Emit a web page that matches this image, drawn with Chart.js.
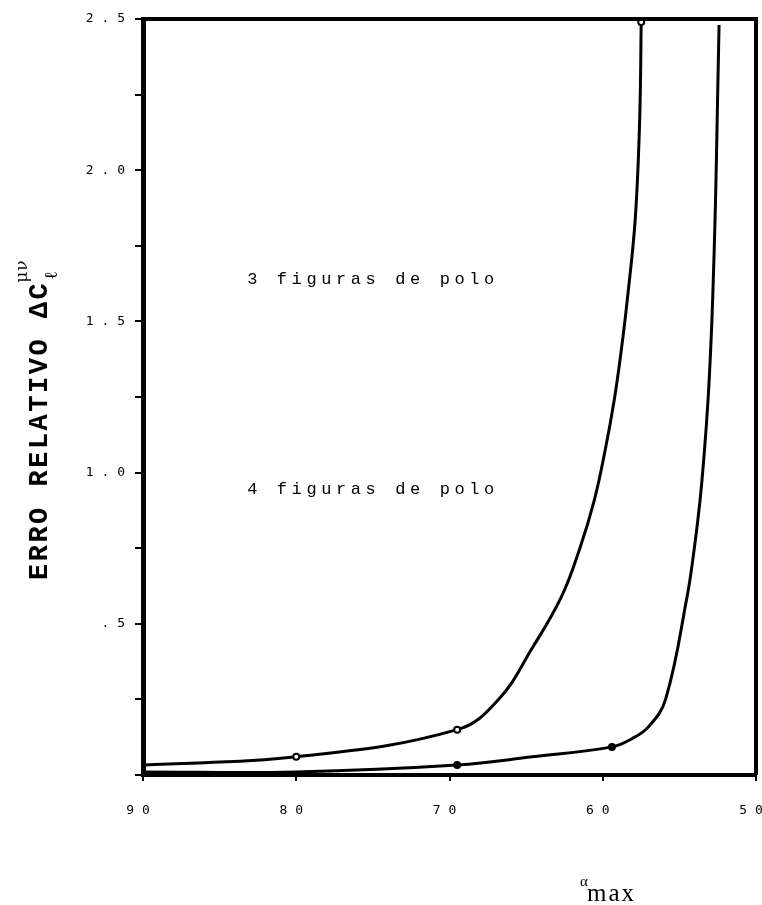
<!DOCTYPE html>
<html><head><meta charset="utf-8">
<script src="https://cdn.jsdelivr.net/npm/chart.js@4.4.1/dist/chart.umd.min.js"></script>
<style>html,body{margin:0;padding:0;background:#fff;overflow:hidden}#wrap{width:762px;height:905px;position:relative}</style>
</head><body><div id="wrap"><canvas id="c" width="762" height="905"></canvas></div>
<script>
// Curve "3 figuras de polo"
const alphaMax3 = [90, 80, 69.5, 66.8, 64.6, 62.7, 61.53, 60.55, 59.84, 59.25, 58.79, 58.4, 57.88, 57.59, 57.49];
const erro3     = [0.033, 0.06, 0.15, 0.25, 0.42, 0.589, 0.744, 0.909, 1.075, 1.24, 1.405, 1.571, 1.839, 2.169, 2.49];
const marks3    = [1, 2, 14];
// Curve "4 figuras de polo"
const alphaMax4 = [90, 80, 69.5, 64.6, 59.4, 58.1, 57.0, 55.9, 54.5, 54.04, 53.65, 53.36, 53.13, 52.96, 52.83, 52.64, 52.51, 52.41];
const erro4     = [0.01, 0.01, 0.033, 0.06, 0.093, 0.12, 0.16, 0.25, 0.589, 0.744, 0.909, 1.075, 1.24, 1.405, 1.571, 1.90, 2.23, 2.48];
const marks4    = [2, 4];
// Tick labels
const xTickValues = [90, 80, 70, 60, 50];
const xTickText   = ['9 0', '8 0', '7 0', '6 0', '5 0'];
const yTickValues = [0.5, 1.0, 1.5, 2.0, 2.5];
const yTickText   = ['. 5', '1 . 0', '1 . 5', '2 . 0', '2 . 5'];
// Texts
const curveLabels = ['3 figuras de polo', '4 figuras de polo'];
const yTitle = 'ERRO RELATIVO ΔC';

const ctx = document.getElementById('c').getContext('2d');

const textPlugin = {
  id: 'texts',
  afterDraw(chart) {
    const c = chart.ctx, a = chart.chartArea;
    const xs = chart.scales.x, ys = chart.scales.y;
    c.save();
    // frame top & right
    c.strokeStyle = '#000';
    c.lineWidth = 4;
    c.beginPath();
    c.moveTo(a.left, a.top); c.lineTo(a.right, a.top); c.lineTo(a.right, a.bottom);
    c.stroke();
    c.fillStyle = '#000';
    // curve labels
    c.font = '17px "Liberation Mono", "DejaVu Sans Mono", monospace';
    if ('letterSpacing' in c) c.letterSpacing = '4.6px';
    c.textAlign = 'left'; c.textBaseline = 'alphabetic';
    c.fillText(curveLabels[0], xs.getPixelForValue(83.2), ys.getPixelForValue(1.625));
    c.fillText(curveLabels[1], xs.getPixelForValue(83.2), ys.getPixelForValue(0.93));
    // y title
    c.save();
    c.translate(47, 580);
    c.rotate(-Math.PI / 2);
    c.font = 'bold 27px "Liberation Mono", "DejaVu Sans Mono", monospace';
    if ('letterSpacing' in c) c.letterSpacing = '2.5px';
    c.fillText(yTitle, 0, 0);
    const w = c.measureText(yTitle).width;
    c.font = '17px "DejaVu Serif", serif';
    if ('letterSpacing' in c) c.letterSpacing = '1px';
    c.fillText('μν', w - 2, -20);
    c.font = 'bold 18px "DejaVu Serif", serif';
    c.fillText('ℓ', w + 2, 10);
    c.restore();
    // x title
    if ('letterSpacing' in c) c.letterSpacing = '0px';
    c.font = '15px "Liberation Serif", serif';
    c.fillText('α', 580, 886);
    c.font = '25px "Liberation Serif", serif';
    if ('letterSpacing' in c) c.letterSpacing = '2px';
    c.fillText('max', 587, 901);
    c.restore();
  }
};

const pts = (xs, ys) => xs.map((x, i) => ({ x: x, y: ys[i] }));

new Chart(ctx, {
  type: 'line',
  data: {
    datasets: [
      {
        data: pts(alphaMax3, erro3), borderColor: '#000', borderWidth: 3,
        tension: 0.4, fill: false,
        pointRadius: c => marks3.includes(c.dataIndex) ? 3 : 0,
        pointBackgroundColor: '#fff', pointBorderColor: '#000', pointBorderWidth: 2
      },
      {
        data: pts(alphaMax4, erro4), borderColor: '#000', borderWidth: 3,
        tension: 0.4, fill: false,
        pointRadius: c => marks4.includes(c.dataIndex) ? 3 : 0,
        pointBackgroundColor: '#000', pointBorderColor: '#000', pointBorderWidth: 2
      }
    ]
  },
  options: {
    responsive: false, animation: false, devicePixelRatio: 1,
    layout: { padding: { top: 19, right: 5, left: 0, bottom: 0 } },
    plugins: { legend: { display: false }, tooltip: { enabled: false } },
    scales: {
      x: {
        type: 'linear', reverse: true, min: 50, max: 90,
        afterBuildTicks: s => { s.ticks = xTickValues.map(v => ({ value: v })); },
        ticks: {
          autoSkip: false, maxRotation: 0, color: '#000', padding: 22, labelOffset: -5,
          font: { family: '"DejaVu Sans Mono", monospace', size: 13 },
          callback: v => { const i = xTickValues.indexOf(v); return i >= 0 ? xTickText[i] : ''; }
        },
        grid: { drawOnChartArea: false, tickLength: 6, color: '#000', lineWidth: 2 },
        border: { display: true, color: '#000', width: 4 },
        afterFit: s => { s.height = 130; s.paddingLeft = 0; s.paddingRight = 0; }
      },
      y: {
        type: 'linear', min: 0, max: 2.5,
        ticks: {
          stepSize: 0.25, autoSkip: false, color: '#000', padding: 10,
          font: { family: '"DejaVu Sans Mono", monospace', size: 13 },
          callback: v => {
            const i = yTickValues.findIndex(t => Math.abs(t - v) < 1e-6);
            return i >= 0 ? yTickText[i] : '';
          }
        },
        grid: { drawOnChartArea: false, tickLength: 8, color: '#000', lineWidth: 2 },
        border: { display: true, color: '#000', width: 5 },
        afterFit: s => { s.width = 143; s.paddingTop = 0; s.paddingBottom = 0; }
      }
    }
  },
  plugins: [textPlugin]
});
</script>
</body></html>
